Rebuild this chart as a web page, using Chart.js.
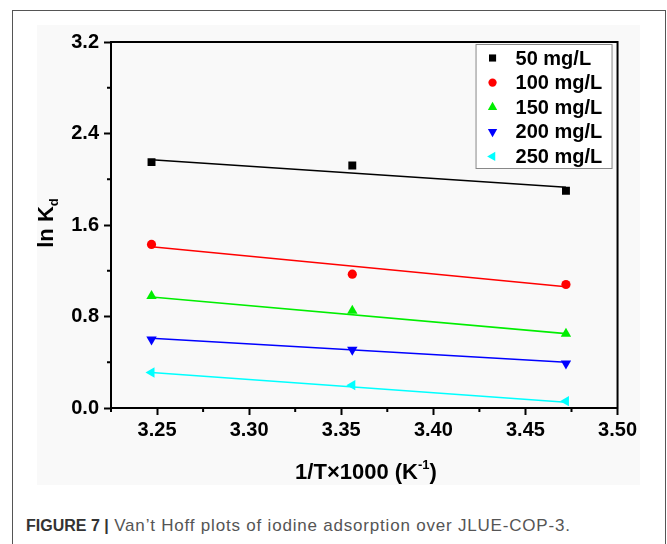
<!DOCTYPE html>
<html>
<head>
<meta charset="utf-8">
<script src="https://cdn.jsdelivr.net/npm/chart.js@4"></script>
<style>
  body { margin: 0; background: #fff; width: 667px; height: 544px; overflow: hidden; position: relative; font-family: "Liberation Sans", Arial, sans-serif; }
  #frame { position: absolute; left: 12px; top: 10px; width: 652px; height: 560px; border: 1px solid #555; }
  #panel { position: absolute; left: 37px; top: 25px; width: 603px; height: 460px; background: #f9f9f9; }
  #wrap { position: absolute; left: 37px; top: 25px; width: 603px; height: 460px; }
  #xtitle { position: absolute; left: 266px; width: 200px; top: 457px; text-align: center; font-weight: bold; font-size: 22px; color: #000; white-space: nowrap; }
  #ytitle { position: absolute; left: -53px; width: 200px; top: 209px; text-align: center; font-weight: bold; font-size: 22px; color: #000; transform: rotate(-90deg); white-space: nowrap; }
  #xtitle sup { font-size: 13px; vertical-align: 10px; }
  #ytitle sub { font-size: 13px; vertical-align: -5px; }
  #caption { position: absolute; left: 26px; top: 516px; font-size: 17px; color: #555; white-space: nowrap; letter-spacing: 0.8px; }
  #caption b { color: #333; font-size: 16px; letter-spacing: 0; }
</style>
</head>
<body>
<div id="frame"></div>
<div id="panel"></div>
<div id="wrap"><canvas id="vantHoff" width="603" height="460"></canvas></div>
<div id="xtitle">1/T×1000 (K<sup>-1</sup>)</div>
<div id="ytitle">ln K<sub>d</sub></div>
<div id="caption"><b>FIGURE 7 |</b> Van’t Hoff plots of iodine adsorption over JLUE-COP-3.</div>
<script>
const invT = [3.247, 3.356, 3.472];
const fitX = [3.247, 3.472];

const labels = ['50 mg/L', '100 mg/L', '150 mg/L', '200 mg/L', '250 mg/L'];
const colors = ['#000000', '#ff0000', '#00ee00', '#0000ff', '#00ffff'];

const kd50 = [2.15, 2.12, 1.90];
const kd100 = [1.43, 1.17, 1.08];
const kd150 = [0.98, 0.85, 0.65];
const kd200 = [0.60, 0.51, 0.39];
const kd250 = [0.31, 0.20, 0.06];

const fit50 = [2.17, 1.93];
const fit100 = [1.41, 1.06];
const fit150 = [0.97, 0.65];
const fit200 = [0.61, 0.40];
const fit250 = [0.31, 0.05];

const xTicks = [3.25, 3.30, 3.35, 3.40, 3.45, 3.50];
const yTicks = [0.0, 0.8, 1.6, 2.4, 3.2];

const pointSeries = [kd50, kd100, kd150, kd200, kd250];
const fitSeries = [fit50, fit100, fit150, fit200, fit250];
const markers = [
    { pointStyle: 'rect', radius: 5.6, rotation: 0 },
    { pointStyle: 'circle', radius: 4.6, rotation: 0 },
    { pointStyle: 'triangle', radius: 6, rotation: 0 },
    { pointStyle: 'triangle', radius: 6, rotation: 180 },
    { pointStyle: 'triangle', radius: 6, rotation: 270 },
];

const datasets = [];
pointSeries.forEach((vals, i) => {
    datasets.push({
        label: labels[i],
        data: fitX.map((x, j) => ({ x: x, y: fitSeries[i][j] })),
        showLine: true,
        borderColor: colors[i],
        borderWidth: 1.6,
        pointRadius: 0,
        order: 2,
    });
    datasets.push({
        label: labels[i],
        data: invT.map((x, j) => ({ x: x, y: vals[j] })),
        showLine: false,
        backgroundColor: colors[i],
        borderColor: colors[i],
        borderWidth: 0,
        pointStyle: markers[i].pointStyle,
        pointRadius: markers[i].radius,
        rotation: markers[i].rotation,
        order: 1,
    });
});

// box, minor ticks and legend
const decor = {
    id: 'decor',
    afterDraw(chart) {
        const ctx = chart.ctx;
        const a = chart.chartArea;
        ctx.save();
        ctx.strokeStyle = '#000';
        ctx.lineWidth = 2;
        ctx.strokeRect(a.left, a.top, a.right - a.left, a.bottom - a.top);

        const xs = chart.scales.x, ys = chart.scales.y;
        ctx.beginPath();
        for (let i = 0; i < xTicks.length; i++) {
            const px = xs.getPixelForValue(xTicks[i] - 0.025);
            ctx.moveTo(px, a.bottom);
            ctx.lineTo(px, a.bottom + 4);
        }
        for (let i = 0; i < yTicks.length - 1; i++) {
            const py = ys.getPixelForValue(yTicks[i] + 0.4);
            ctx.moveTo(a.left, py);
            ctx.lineTo(a.left - 4, py);
        }
        ctx.stroke();

        // legend
        const lw = 136, lh = 124;
        const lx = a.right - 6 - lw, ly = a.top + 2;
        ctx.lineWidth = 1;
        ctx.strokeStyle = '#888';
        ctx.fillStyle = '#fff';
        ctx.fillRect(lx, ly, lw, lh);
        ctx.strokeRect(lx + 0.5, ly + 0.5, lw, lh);
        ctx.font = 'bold 20px "Liberation Sans", Arial, sans-serif';
        ctx.textBaseline = 'middle';
        labels.forEach((lab, i) => {
            const cy = ly + 14 + i * 24.6;
            ctx.fillStyle = colors[i];
            ctx.strokeStyle = colors[i];
            Chart.helpers.drawPoint(ctx, { pointStyle: markers[i].pointStyle, radius: markers[i].radius * 0.9, rotation: markers[i].rotation, borderWidth: 0 }, lx + 17, cy);
            ctx.fillStyle = '#000';
            ctx.fillText(lab, lx + 40, cy + 1);
        });
        ctx.restore();
    }
};

const config = {
    type: 'scatter',
    data: { datasets: datasets },
    options: {
        responsive: false,
        animation: false,
        devicePixelRatio: 1,
        layout: { padding: { top: 12, right: 21, left: 0, bottom: 0 } },
        plugins: {
            legend: { display: false },
            tooltip: { enabled: false },
        },
        scales: {
            x: {
                type: 'linear',
                min: 3.225,
                max: 3.50,
                afterBuildTicks: (scale) => { scale.ticks = xTicks.map(v => ({ value: v })); },
                afterFit: (scale) => { scale.height = 77; },
                grid: { drawOnChartArea: false, drawTicks: true, tickLength: 7, tickWidth: 2, tickColor: '#000' },
                border: { display: true, color: '#000', width: 2 },
                ticks: {
                    color: '#000',
                    padding: 3,
                    font: { family: '"Liberation Sans", Arial, sans-serif', size: 20, weight: 'bold' },
                    callback: (v) => Number(v).toFixed(2),
                },
            },
            y: {
                type: 'linear',
                min: 0,
                max: 3.2,
                afterBuildTicks: (scale) => { scale.ticks = yTicks.map(v => ({ value: v })); },
                afterFit: (scale) => { scale.width = 74; },
                grid: { drawOnChartArea: false, drawTicks: true, tickLength: 7, tickWidth: 2, tickColor: '#000' },
                border: { display: true, color: '#000', width: 2 },
                ticks: {
                    color: '#000',
                    padding: 5,
                    font: { family: '"Liberation Sans", Arial, sans-serif', size: 20, weight: 'bold' },
                    callback: (v) => Number(v).toFixed(1),
                },
            },
        },
    },
    plugins: [decor],
};

const vantHoffChart = new Chart(document.getElementById('vantHoff'), config);
</script>
</body>
</html>
